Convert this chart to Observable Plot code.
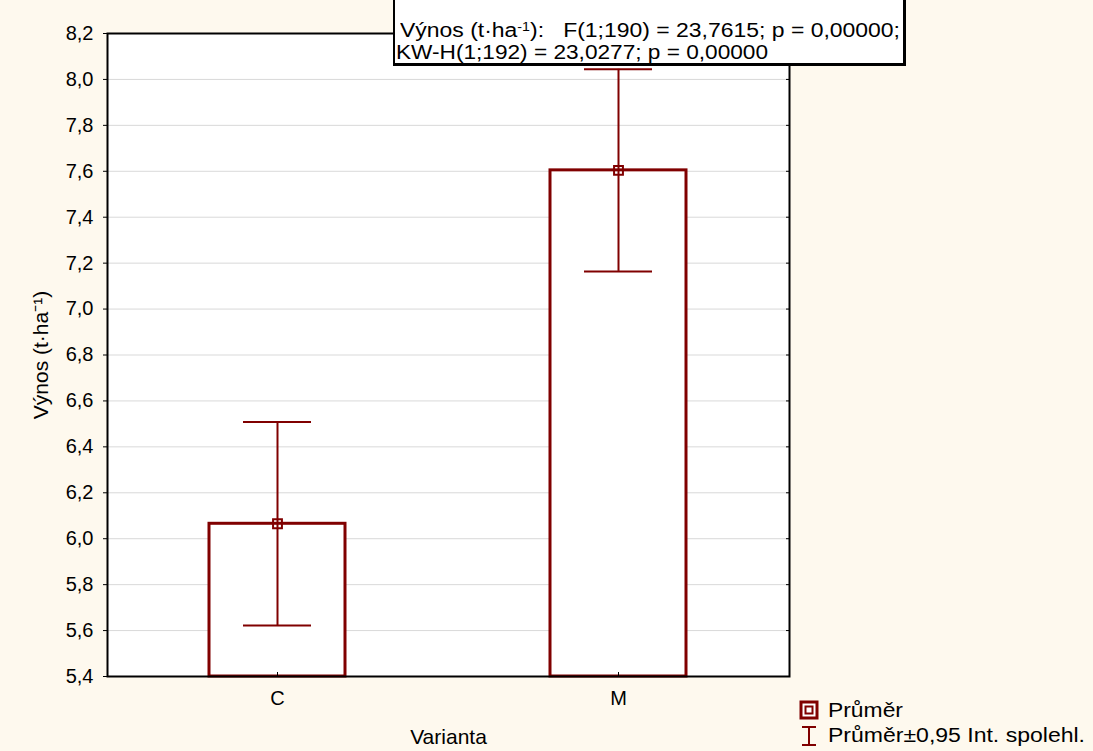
<!DOCTYPE html>
<html><head><meta charset="utf-8">
<script src="https://cdn.jsdelivr.net/npm/d3@7"></script>
<script src="https://cdn.jsdelivr.net/npm/@observablehq/plot@0.6"></script>
<style>
html,body{margin:0;padding:0;background:#fef9ee;}
#wrap{position:relative;width:1093px;height:751px;overflow:hidden;font-family:"Liberation Sans",Arial,sans-serif;color:#000;}
#wrap svg{position:absolute;left:0;top:0;}
.ann{position:absolute;left:393px;top:-4px;width:513px;height:70px;background:#fff;border:2px solid #000;border-right-width:3px;border-bottom-width:3px;box-sizing:border-box;}
.ln{position:absolute;white-space:nowrap;font-size:20px;line-height:1;transform-origin:0 0;}
.sup{position:relative;top:-0.5em;font-size:0.62em;}
.ico{position:absolute;}
</style></head><body><div id="wrap"></div>
<script>
const categories = ["C", "M"];
const means = [6.065, 7.604];
const ciLow = [5.622, 7.164];
const ciHigh = [6.508, 8.044];
const yDomain = [5.4, 8.2];
const yTicks = [5.4, 5.6, 5.8, 6.0, 6.2, 6.4, 6.6, 6.8, 7.0, 7.2, 7.4, 7.6, 7.8, 8.0, 8.2];
const xLabel = "Varianta";
const yLabel = "Výnos (t·ha⁻¹)";
const statLine1 = ["Výnos (t·ha", "-1", "):   F(1;190) = 23,7615; p = 0,00000;"];
const statLine2 = "KW-H(1;192) = 23,0277; p = 0,00000";
const legendItems = ["Průměr", "Průměr±0,95 Int. spolehl."];

const red = "#800000";
const fmt = d => d.toFixed(1).replace(".", ",");
const data = categories.map((c, i) => ({cat: c, mean: means[i], lo: ciLow[i], hi: ciHigh[i]}));

const chart = Plot.plot({
  width: 1093, height: 751,
  marginLeft: 107, marginRight: 304, marginTop: 33, marginBottom: 75,
  style: {background: "transparent", fontFamily: '"Liberation Sans", Arial, sans-serif', fontSize: "20px", color: "#000", overflow: "visible"},
  x: {domain: categories, paddingInner: 0.6, paddingOuter: 0.3},
  y: {domain: yDomain},
  marks: [
    Plot.frame({fill: "white", stroke: null}),
    Plot.ruleY(yTicks.slice(1, -1), {stroke: "#d9d9d9", strokeWidth: 1}),
    Plot.barY(data, {x: "cat", y1: yDomain[0], y2: "mean", fill: "white", stroke: red, strokeWidth: 3}),
    Plot.ruleX(data, {x: "cat", y1: "lo", y2: "hi", stroke: red, strokeWidth: 2}),
    Plot.tickY(data, {x: "cat", y: "lo", stroke: red, strokeWidth: 2, insetLeft: 34, insetRight: 34}),
    Plot.tickY(data, {x: "cat", y: "hi", stroke: red, strokeWidth: 2, insetLeft: 34, insetRight: 34}),
    Plot.dot(data, {x: "cat", y: "mean", symbol: "square", r: 5, stroke: red, strokeWidth: 2, fill: "none"}),
    Plot.frame({stroke: "#000", strokeWidth: 2}),
    Plot.axisY({ticks: yTicks, tickFormat: fmt, tickSize: 4, tickPadding: 10, label: null, fontSize: 20}),
    Plot.axisY({ticks: yTicks, anchor: "right", tickSize: -4, tickFormat: () => "", label: null}),
    Plot.axisX({tickSize: -4, tickPadding: 18, label: null, fontSize: 20}),
    Plot.text([xLabel], {text: d => d, frameAnchor: "bottom", dy: 53, lineAnchor: "top", fontSize: 21}),
    Plot.text([yLabel], {text: d => d, frameAnchor: "left", textAnchor: "middle", dx: -66, rotate: -90, fontSize: 21})
  ]
});
const wrap = document.getElementById("wrap");
wrap.appendChild(chart);

// annotation box
const ann = document.createElement("div");
ann.className = "ann";
wrap.appendChild(ann);

function addLine(html, left, top, target) {
  const el = document.createElement("div");
  el.className = "ln";
  el.style.left = left + "px";
  el.style.top = top + "px";
  el.innerHTML = html;
  wrap.appendChild(el);
  const w = el.getBoundingClientRect().width;
  el.style.transform = `scaleX(${target / w})`;
  return el;
}
addLine(`${statLine1[0]}<span class="sup">${statLine1[1]}</span>${statLine1[2].replace(/   /, "&nbsp;&nbsp;&nbsp;")}`, 400, 20, 500);
addLine(statLine2, 396, 42, 372);
addLine(legendItems[0], 828, 700, 75);
addLine(legendItems[1], 828, 725, 257);

// legend icons
const ico1 = document.createElement("div");
ico1.className = "ico";
ico1.innerHTML = `<svg width="20" height="20"><rect x="2" y="2" width="16" height="16" fill="#fff" stroke="${red}" stroke-width="3"/><rect x="6.5" y="6.5" width="7" height="7" fill="none" stroke="${red}" stroke-width="2"/></svg>`;
ico1.style.left = "799px"; ico1.style.top = "700px";
wrap.appendChild(ico1);
const ico2 = document.createElement("div");
ico2.className = "ico";
ico2.innerHTML = `<svg width="20" height="22"><line x1="3" x2="17" y1="2" y2="2" stroke="${red}" stroke-width="2"/><line x1="10" x2="10" y1="2" y2="20" stroke="${red}" stroke-width="2"/><line x1="3" x2="17" y1="20" y2="20" stroke="${red}" stroke-width="2"/></svg>`;
ico2.style.left = "799px"; ico2.style.top = "725px";
wrap.appendChild(ico2);
</script>
</body></html>
